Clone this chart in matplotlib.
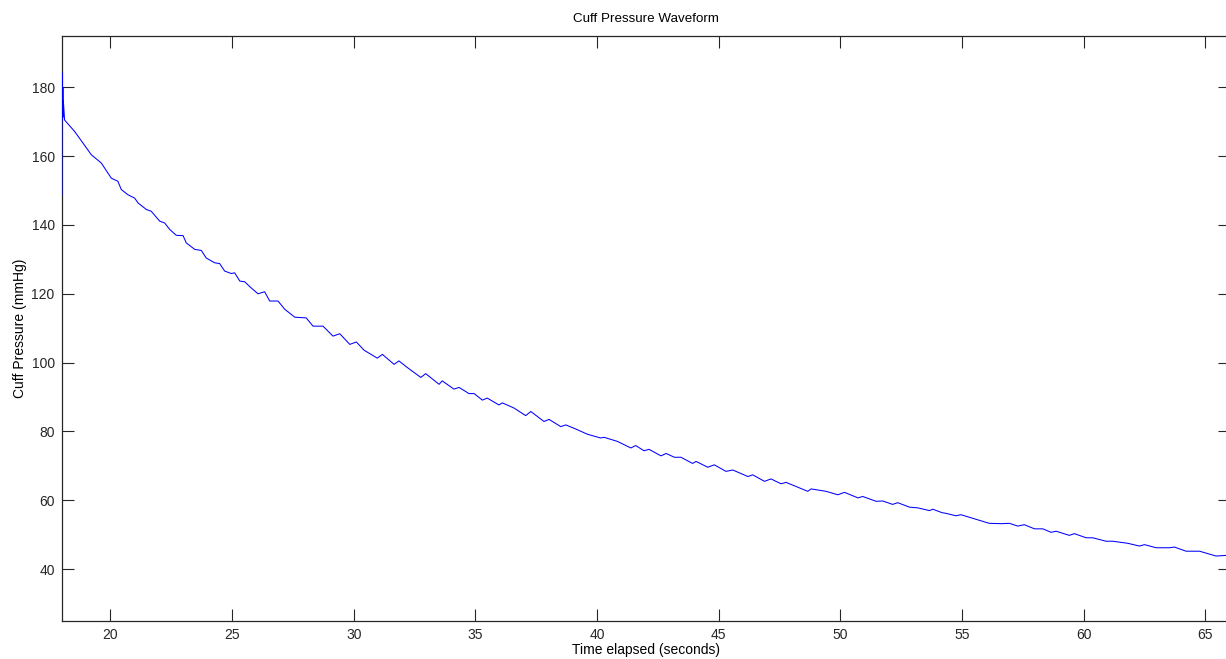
import matplotlib
matplotlib.use("Agg")
import matplotlib.pyplot as plt

plt.rcParams['font.family'] = ['Liberation Sans', 'DejaVu Sans']

# readings (seconds, mmHg)
time_s = [
    18.01, 18.01, 18.02, 18.03, 18.04, 18.05, 18.06, 18.07, 18.10, 18.12,
    18.53, 19.22, 19.63, 20.04, 20.31, 20.45, 20.72, 21.00, 21.14, 21.48, 21.68,
    22.03, 22.23, 22.44, 22.71, 22.99, 23.12, 23.47, 23.74, 23.94, 24.29, 24.49,
    24.70, 24.97, 25.11, 25.32, 25.52, 25.79, 26.07, 26.34, 26.55, 26.89, 27.17,
    27.58, 28.05, 28.33, 28.74, 29.15, 29.43, 29.84, 30.11,
    30.43, 30.97, 31.18, 31.66, 31.86, 32.20, 32.76, 32.96, 33.51, 33.64, 34.12,
    34.33, 34.74, 34.95, 35.29, 35.49, 35.97, 36.11, 36.59, 37.07, 37.28, 37.82,
    38.03, 38.51, 38.72, 39.13, 39.60, 40.15, 40.29, 40.84, 41.39, 41.59, 41.93,
    42.14, 42.63, 42.84, 43.18, 43.45, 43.93, 44.07, 44.55, 44.82, 45.30, 45.58,
    46.20, 46.40, 46.88, 47.15, 47.56, 47.77, 48.66, 48.80, 49.41, 49.90, 50.17,
    50.72, 50.92, 51.47, 51.74, 52.15, 52.36, 52.84, 53.18, 53.66, 53.80, 54.18,
    54.34, 54.75, 54.96, 55.65, 56.12, 56.61, 56.95, 57.29, 57.56, 57.98, 58.32,
    58.66, 58.87, 59.41, 59.62, 60.10, 60.37, 60.92, 61.19, 61.81, 62.29, 62.50,
    62.98, 63.52, 63.73, 64.21, 64.76, 65.44, 65.90,
]
pressure_mmhg = [
    148.8, 184.3, 170.5, 183.0, 171.0, 180.0, 171.5, 176.0, 172.5, 170.5,
    167.2, 160.4, 158.0, 153.6, 152.7, 150.3, 148.8, 147.8, 146.4, 144.5, 144.0,
    141.1, 140.6, 138.7, 137.0, 136.9, 134.8, 132.9, 132.6, 130.4, 129.0, 128.8,
    126.6, 125.9, 126.1, 123.7, 123.5, 121.7, 120.0, 120.6, 117.9, 117.9, 115.5,
    113.2, 113.0, 110.6, 110.6, 107.7, 108.4, 105.3, 106.0,
    103.6, 101.3, 102.4, 99.5, 100.5, 98.6, 95.7, 96.8, 93.7, 94.7, 92.3,
    92.8, 91.0, 91.0, 89.1, 89.7, 87.7, 88.3, 86.8, 84.6, 85.8, 82.9,
    83.5, 81.4, 81.9, 80.7, 79.2, 78.1, 78.3, 77.1, 75.2, 75.9, 74.4,
    74.8, 72.9, 73.6, 72.5, 72.5, 70.7, 71.3, 69.6, 70.3, 68.4, 68.8,
    66.9, 67.4, 65.5, 66.2, 64.8, 65.2, 62.6, 63.3, 62.6, 61.6, 62.3,
    60.7, 61.1, 59.7, 59.8, 58.8, 59.3, 58.0, 57.8, 57.0, 57.4, 56.4,
    56.2, 55.5, 55.8, 54.3, 53.3, 53.2, 53.3, 52.5, 52.9, 51.7, 51.7,
    50.7, 51.0, 49.8, 50.3, 49.1, 49.1, 48.1, 48.1, 47.5, 46.7, 47.1,
    46.2, 46.2, 46.4, 45.2, 45.2, 43.8, 44.0,
]

x_ticks = [20, 25, 30, 35, 40, 45, 50, 55, 60, 65]
y_ticks = [40, 60, 80, 100, 120, 140, 160, 180]

fig = plt.figure(figsize=(12.26, 6.59), dpi=100)
ax = fig.add_axes([0.0503, 0.0581, 0.9527, 0.8877])

ax.plot(time_s, pressure_mmhg, color='#0000ff', linewidth=0.75, zorder=3)

ax.set_xlim(18, 66)
ax.set_ylim(25, 195)
ax.set_xticks(x_ticks)
ax.set_yticks(y_ticks)

ax.tick_params(direction='in', length=8.6, width=0.8, top=True, right=True,
               labelsize=10, colors='#262626', pad=5)
for sp in ax.spines.values():
    sp.set_linewidth(0.9)
    sp.set_color('#262626')

ax.set_title('Cuff Pressure Waveform', fontsize=9.6, pad=10)
ax.set_xlabel('Time elapsed (seconds)', fontsize=10, labelpad=1)
ax.set_ylabel('Cuff Pressure (mmHg)', fontsize=10, labelpad=3)

fig.savefig('out.png', dpi=100)
